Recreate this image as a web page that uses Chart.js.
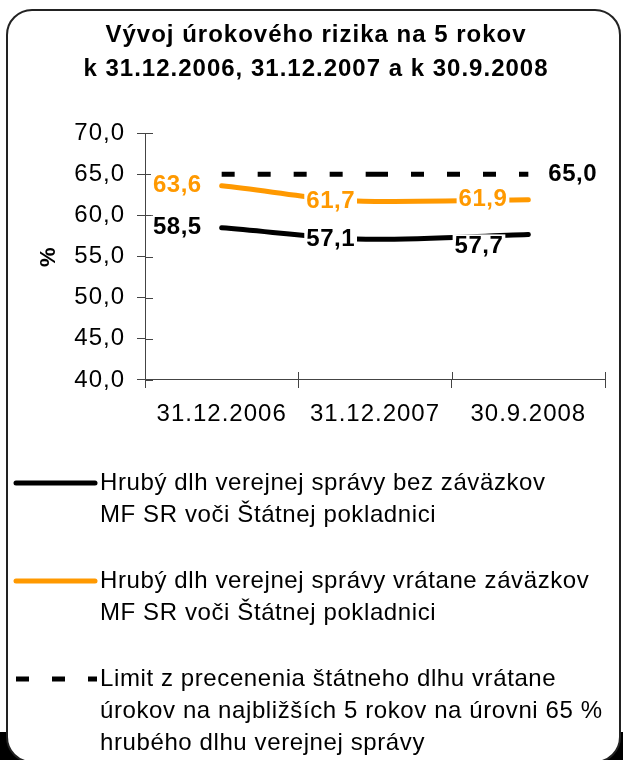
<!DOCTYPE html>
<html>
<head>
<meta charset="utf-8">
<script src="https://cdn.jsdelivr.net/npm/chart.js@4.4.1/dist/chart.umd.min.js"></script>
<style>
  html, body { margin: 0; padding: 0; background: #fff; }
  #wrap { position: relative; width: 623px; height: 760px; overflow: hidden; }
  #shade { position: absolute; left: 0; top: 732px; width: 623px; height: 28px; background: #000; }
  #frame { position: absolute; left: 6px; top: 9px; width: 611px; height: 750px; border: 2px solid #222; border-radius: 26px; background: #fff; }
  canvas { position: absolute; left: 0; top: 0; }
</style>
</head>
<body>
<div id="wrap">
  <div id="shade"></div>
  <div id="frame"></div>
  <canvas id="chart" width="623" height="760"></canvas>
</div>
<script>
var categories = ['31.12.2006', '31.12.2007', '30.9.2008'];
var bezZavazkov = [58.5, 57.1, 57.7];
var vrataneZavazkov = [63.6, 61.7, 61.9];
var limit = [65.0, 65.0, 65.0];
var seriesNames = [
  ['Hrubý dlh verejnej správy bez záväzkov', 'MF SR voči Štátnej pokladnici'],
  ['Hrubý dlh verejnej správy vrátane záväzkov', 'MF SR voči Štátnej pokladnici'],
  ['Limit z precenenia štátneho dlhu vrátane', 'úrokov na najbližších 5 rokov na úrovni 65 %', 'hrubého dlhu verejnej správy']
];
var titleLines = ['Vývoj úrokového rizika na 5 rokov', 'k 31.12.2006, 31.12.2007 a k 30.9.2008'];
var yMin = 40, yMax = 70, yStep = 5;

var FONT = '"Liberation Sans", Arial, sans-serif';
Chart.defaults.font.family = FONT;
Chart.defaults.color = '#000';

function fmt(v) {
  return Number(v).toFixed(1).replace('.', ',');
}

// where each value label sits (side of the point, gap, vertical shift)
var labelPlacement = [
  [{ side: 'left', gap: 20 }, { side: 'left', gap: 20 }, { side: 'left', gap: 25, dy: 12 }],
  [{ side: 'left', gap: 20 }, { side: 'left', gap: 20 }, { side: 'left', gap: 21 }],
  [null, null, { side: 'right', gap: 20 }]
];

var spacing = {
  id: 'spacing',
  beforeDraw: function(chart) { chart.ctx.letterSpacing = '1px'; }
};

var crossTicks = {
  id: 'crossTicks',
  beforeDatasetsDraw: function(chart) {
    var ctx = chart.ctx, xs = chart.scales.x, ys = chart.scales.y;
    ctx.save();
    ctx.strokeStyle = '#444';
    ctx.lineWidth = 1;
    ctx.beginPath();
    ys.ticks.forEach(function(t) {
      var py = Math.round(ys.getPixelForValue(t.value)) + 0.5;
      ctx.moveTo(xs.left, py);
      ctx.lineTo(xs.left + 8, py);
    });
    var half = (xs.getPixelForValue(1) - xs.getPixelForValue(0)) / 2;
    for (var i = 0; i <= categories.length; i++) {
      var px = Math.round(xs.getPixelForValue(0) - half + 2 * half * i) + 0.5;
      ctx.moveTo(px, ys.bottom);
      ctx.lineTo(px, ys.bottom - 8);
    }
    ctx.stroke();
    ctx.restore();
  }
};

var pointLabels = {
  id: 'pointLabels',
  afterDatasetsDraw: function(chart) {
    var ctx = chart.ctx;
    ctx.save();
    ctx.font = 'bold 24px ' + FONT;
    ctx.letterSpacing = '0.5px';
    ctx.textBaseline = 'middle';
    ctx.textAlign = 'left';
    chart.data.datasets.forEach(function(ds, di) {
      var meta = chart.getDatasetMeta(di);
      meta.data.forEach(function(pt, i) {
        var pl = labelPlacement[di][i];
        if (!pl) return;
        var text = fmt(ds.data[i]);
        var w = ctx.measureText(text).width;
        var x = pl.side === 'right' ? pt.x + pl.gap : pt.x - pl.gap - w;
        var y = pt.y + (pl.dy || 0);
        ctx.fillStyle = '#fff';
        ctx.fillRect(x - 2, y - 12, w + 4, 24);
        ctx.fillStyle = ds.borderColor;
        ctx.fillText(text, x, y);
      });
    });
    ctx.restore();
  }
};

var sideLegend = {
  id: 'sideLegend',
  afterDraw: function(chart) {
    var ctx = chart.ctx;
    var y = chart.chartArea.bottom + 103;
    ctx.save();
    ctx.font = '24px ' + FONT;
    ctx.letterSpacing = '0.6px';
    ctx.textBaseline = 'middle';
    ctx.textAlign = 'left';
    chart.data.datasets.forEach(function(ds, di) {
      var dashed = !!ds.borderDash;
      ctx.strokeStyle = ds.borderColor;
      ctx.lineWidth = ds.borderWidth;
      ctx.setLineDash(dashed ? ds.borderDash : []);
      ctx.lineCap = dashed ? 'butt' : 'round';
      ctx.beginPath();
      ctx.moveTo(16, y);
      ctx.lineTo(dashed ? 97 : 95, y);
      ctx.stroke();
      ctx.fillStyle = '#000';
      seriesNames[di].forEach(function(line, k) {
        ctx.fillText(line, 100, y + k * 32);
      });
      y += seriesNames[di].length * 32 + 34;
    });
    ctx.restore();
  }
};

new Chart(document.getElementById('chart'), {
  type: 'line',
  data: {
    labels: categories,
    datasets: [
      {
        label: seriesNames[0].join(' '),
        data: bezZavazkov,
        borderColor: '#000000',
        borderWidth: 5,
        borderCapStyle: 'round',
        cubicInterpolationMode: 'monotone',
        pointRadius: 0,
        fill: false
      },
      {
        label: seriesNames[1].join(' '),
        data: vrataneZavazkov,
        borderColor: '#FF9900',
        borderWidth: 5,
        borderCapStyle: 'round',
        cubicInterpolationMode: 'monotone',
        pointRadius: 0,
        fill: false
      },
      {
        label: seriesNames[2].join(' '),
        data: limit,
        borderColor: '#000000',
        borderWidth: 5,
        borderDash: [13, 23],
        // restart the dash pattern on every segment, as the original does
        segment: { borderDashOffset: function(c) { return c.p0DataIndex * 36; } },
        tension: 0,
        pointRadius: 0,
        fill: false
      }
    ]
  },
  options: {
    responsive: false,
    animation: false,
    layout: { padding: { left: 27, right: 18, top: 10, bottom: 0 } },
    plugins: {
      legend: { display: false },
      tooltip: { enabled: false },
      title: {
        display: true,
        text: titleLines,
        color: '#000',
        font: { size: 24, weight: 'bold', lineHeight: 1.4 },
        padding: { top: 9, bottom: 47 }
      }
    },
    scales: {
      x: {
        offset: true,
        grid: { offset: true, drawOnChartArea: false, tickLength: 8, color: '#444' },
        border: { color: '#444' },
        ticks: { font: { size: 24 }, padding: 12, maxRotation: 0, autoSkip: false, color: '#000' },
        afterFit: function(s) { s.height = 380; }
      },
      y: {
        min: yMin,
        max: yMax,
        ticks: { stepSize: yStep, callback: fmt, font: { size: 24 }, padding: 12, color: '#000' },
        grid: { drawOnChartArea: false, tickLength: 8, color: '#444' },
        border: { color: '#444' },
        title: { display: true, text: '%', color: '#000', font: { size: 22, weight: 'bold' }, padding: { top: 9, bottom: 0 } },
        afterFit: function(s) { s.width = 118; }
      }
    }
  },
  plugins: [spacing, crossTicks, pointLabels, sideLegend]
});
</script>
</body>
</html>
